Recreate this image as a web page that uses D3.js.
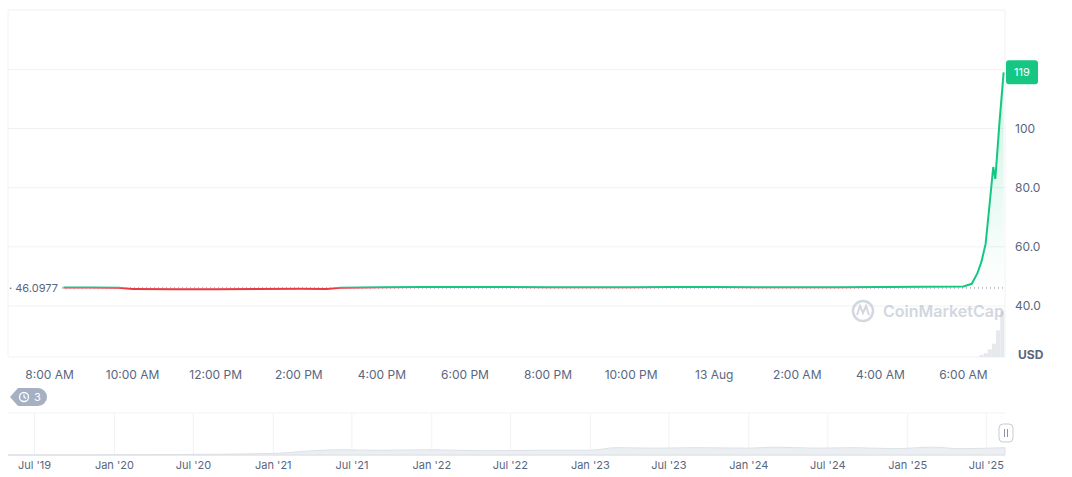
<!DOCTYPE html><html><head><meta charset="utf-8"><script src="https://cdn.jsdelivr.net/npm/d3@7"></script>
<style>body{margin:0;background:#fff;font-family:Inter,"Noto Sans",sans-serif}</style></head><body><svg id="c" width="1072" height="477"></svg>
<script>
const priceTimes=["2025-08-12T08:20","2025-08-12T09:00","2025-08-12T09:40","2025-08-12T10:00","2025-08-12T11:00","2025-08-12T12:00","2025-08-12T13:00","2025-08-12T14:00","2025-08-12T14:40","2025-08-12T15:00","2025-08-12T16:00","2025-08-12T17:00","2025-08-12T18:00","2025-08-12T19:00","2025-08-12T20:00","2025-08-12T21:00","2025-08-12T22:00","2025-08-12T23:00","2025-08-13T00:00","2025-08-13T01:00","2025-08-13T02:00","2025-08-13T03:00","2025-08-13T04:00","2025-08-13T05:00","2025-08-13T06:00","2025-08-13T06:12","2025-08-13T06:20","2025-08-13T06:26","2025-08-13T06:32","2025-08-13T06:38","2025-08-13T06:43","2025-08-13T06:46","2025-08-13T06:52","2025-08-13T06:58"];
const priceValues=[46.25,46.25,46.2,45.75,45.7,45.7,45.75,45.8,45.75,46.2,46.3,46.4,46.4,46.4,46.3,46.3,46.35,46.4,46.4,46.35,46.3,46.35,46.4,46.5,46.6,47.5,51,55,61,75,87,83,102,119];
const baseValue=46.0977;
const yTicks=[40,60,80,100];
const xTickTimes=["2025-08-12T08:00","2025-08-12T10:00","2025-08-12T12:00","2025-08-12T14:00","2025-08-12T16:00","2025-08-12T18:00","2025-08-12T20:00","2025-08-12T22:00","2025-08-13T00:00","2025-08-13T02:00","2025-08-13T04:00","2025-08-13T06:00"];
const xTickLabels=["8:00 AM","10:00 AM","12:00 PM","2:00 PM","4:00 PM","6:00 PM","8:00 PM","10:00 PM","13 Aug","2:00 AM","4:00 AM","6:00 AM"];
const volTimes=["2025-08-13T06:26","2025-08-13T06:32","2025-08-13T06:38","2025-08-13T06:44","2025-08-13T06:50","2025-08-13T06:56"];
const volValues=[2,4,8,14,28,48];
const navDates=["2019-05-01","2019-10-01","2020-03-01","2020-08-01","2021-01-01","2021-04-01","2021-06-01","2021-09-01","2022-01-01","2022-05-01","2022-09-01","2023-01-01","2023-03-01","2023-06-01","2023-09-01","2024-01-01","2024-03-01","2024-06-01","2024-09-01","2024-12-01","2025-03-01","2025-05-01","2025-08-13"];
const navValues=[0,0,0.3,0.6,1.5,4,5,4.5,5,4,4.5,4.5,7,6.5,7,6.5,7.5,6.5,7,6,7.5,6,7];
const navTicks=["2019-07-01","2020-01-01","2020-07-01","2021-01-01","2021-07-01","2022-01-01","2022-07-01","2023-01-01","2023-07-01","2024-01-01","2024-07-01","2025-01-01","2025-07-01"];
const navLabels=["Jul '19","Jan '20","Jul '20","Jan '21","Jul '21","Jan '22","Jul '22","Jan '23","Jul '23","Jan '24","Jul '24","Jan '25","Jul '25"];

const P=d3.isoParse, svg=d3.select("#c");
const x=d3.scaleTime().domain([P("2025-08-12T07:00"),P("2025-08-13T07:00")]).range([8,1005]);
const y=d3.scaleLinear().domain([40,120]).range([306,69.4]);
const gc="#eff2f5", tc="#58667e";
svg.append("line").attr("x1",8).attr("x2",8).attr("y1",10).attr("y2",357).attr("stroke",gc);
svg.append("line").attr("x1",1005).attr("x2",1005).attr("y1",10).attr("y2",357).attr("stroke",gc);
svg.append("line").attr("x1",8).attr("x2",1005).attr("y1",10).attr("y2",10).attr("stroke",gc);
svg.append("line").attr("x1",8).attr("x2",1005).attr("y1",357).attr("y2",357).attr("stroke",gc);
[...yTicks,120].forEach(v=>svg.append("line").attr("x1",8).attr("x2",1005).attr("y1",y(v)).attr("y2",y(v)).attr("stroke",gc));
yTicks.forEach(v=>svg.append("text").attr("x",1015).attr("y",y(v)+4).attr("font-size",12).attr("fill",tc).text(v>=100?v:v.toFixed(1)));
svg.append("text").attr("x",1018).attr("y",359).attr("font-size",12).attr("font-weight",700).attr("fill",tc).text("USD");
const yv=d3.scaleLinear().domain([0,60]).range([357,300]);
svg.selectAll(".v").data(volTimes).join("rect").attr("x",d=>x(P(d))-2).attr("width",4).attr("y",(d,i)=>yv(volValues[i])).attr("height",(d,i)=>357-yv(volValues[i])).attr("fill","#e5e8ec");
const wm=svg.append("g").attr("opacity",0.5);
wm.append("circle").attr("cx",863).attr("cy",311).attr("r",10).attr("fill","none").attr("stroke","#a6b0c3").attr("stroke-width",2.5);
wm.append("path").attr("d","M857 315 L860 306 L863 313 L866 306 L869 315").attr("fill","none").attr("stroke","#a6b0c3").attr("stroke-width",2);
wm.append("text").attr("x",883).attr("y",317).attr("font-size",16).attr("font-weight",600).attr("fill","#a6b0c3").text("CoinMarketCap");
const pts=priceTimes.map((t,i)=>({t:P(t),v:priceValues[i]}));
const defs=svg.append("defs");
const gr=defs.append("linearGradient").attr("id","g").attr("x1",0).attr("x2",0).attr("y1",0).attr("y2",1);
gr.append("stop").attr("offset",0).attr("stop-color","#16c784").attr("stop-opacity",0.22);
gr.append("stop").attr("offset",1).attr("stop-color","#16c784").attr("stop-opacity",0);
const yb=y(baseValue);
defs.append("clipPath").attr("id","above").append("rect").attr("x",0).attr("y",0).attr("width",1072).attr("height",yb);
defs.append("clipPath").attr("id","below").append("rect").attr("x",0).attr("y",yb).attr("width",1072).attr("height",200);
svg.append("path").datum(pts).attr("clip-path","url(#above)").attr("fill","url(#g)").attr("d",d3.area().x(d=>x(d.t)).y0(yb).y1(d=>y(d.v)));
svg.append("line").attr("x1",62).attr("x2",1005).attr("y1",yb).attr("y2",yb).attr("stroke","#808a9d").attr("stroke-dasharray","1,3");
const ln=d3.line().x(d=>x(d.t)).y(d=>y(d.v));
svg.append("path").datum(pts).attr("clip-path","url(#above)").attr("fill","none").attr("stroke","#16c784").attr("stroke-width",2).attr("d",ln);
svg.append("path").datum(pts).attr("clip-path","url(#below)").attr("fill","none").attr("stroke","#ea3943").attr("stroke-width",2).attr("d",ln);
svg.append("rect").attr("x",9).attr("y",yb-7).attr("width",52).attr("height",14).attr("fill","#fff");
svg.append("text").attr("x",9).attr("y",yb+4).attr("font-size",11).attr("fill","#58667e").text("· 46.0977");
const last=pts[pts.length-1];
svg.append("rect").attr("x",1006).attr("y",y(last.v)-12).attr("width",32).attr("height",24).attr("rx",3).attr("fill","#16c784");
svg.append("text").attr("x",1022).attr("y",y(last.v)+4).attr("text-anchor","middle").attr("font-size",11).attr("fill","#fff").text(last.v);
xTickTimes.forEach((t,i)=>svg.append("text").attr("x",x(P(t))).attr("y",379).attr("text-anchor","middle").attr("font-size",12).attr("fill",tc).text(xTickLabels[i]));
svg.append("path").attr("d","M10 397 L18 388 H38 A9 9 0 0 1 38 406 H18 Z").attr("fill","#a6b0c3");
svg.append("circle").attr("cx",24).attr("cy",397).attr("r",4.5).attr("fill","none").attr("stroke","#fff").attr("stroke-width",1.3);
svg.append("path").attr("d","M24 394.5 V397 L26 398.5").attr("fill","none").attr("stroke","#fff").attr("stroke-width",1.2);
svg.append("text").attr("x",34).attr("y",401).attr("font-size",11).attr("fill","#fff").text("3");
const nx=d3.scaleTime().domain([P("2019-05-01"),P("2025-08-13")]).range([8,1005]);
const ny=d3.scaleLinear().domain([0,40]).range([455,413]);
svg.append("line").attr("x1",8).attr("x2",1005).attr("y1",413).attr("y2",413).attr("stroke",gc);
svg.append("line").attr("x1",8).attr("x2",1005).attr("y1",455).attr("y2",455).attr("stroke","#e5e8ec");
navTicks.forEach((t,i)=>{const xx=nx(P(t));
 svg.append("line").attr("x1",xx).attr("x2",xx).attr("y1",413).attr("y2",455).attr("stroke",gc);
 svg.append("text").attr("x",xx).attr("y",469).attr("text-anchor","middle").attr("font-size",11).attr("fill",tc).text(navLabels[i]);});
svg.append("path").datum(navDates.map((d,i)=>({t:P(d),v:navValues[i]}))).attr("fill","#eceff2").attr("stroke","#dde1e6").attr("d",d3.area().curve(d3.curveMonotoneX).x(d=>nx(d.t)).y0(455).y1(d=>ny(d.v)));
svg.append("rect").attr("x",999).attr("y",424).attr("width",14).attr("height",18).attr("rx",4).attr("fill","#fff").attr("stroke","#c5ccd6");
svg.append("line").attr("x1",1004.5).attr("x2",1004.5).attr("y1",429).attr("y2",437).attr("stroke","#8a94a6");
svg.append("line").attr("x1",1007.5).attr("x2",1007.5).attr("y1",429).attr("y2",437).attr("stroke","#8a94a6");
</script></body></html>
